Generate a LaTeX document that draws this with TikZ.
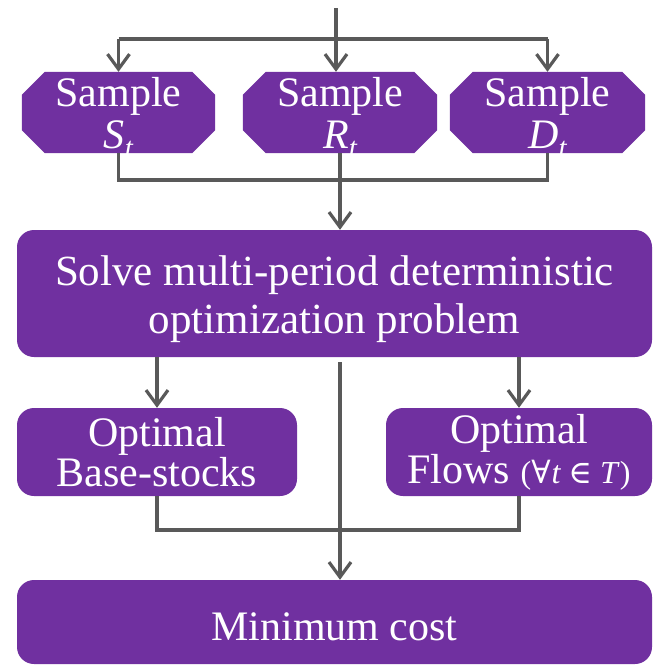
\documentclass[tikz,border=0pt]{standalone}
\usepackage{fontspec}
\setmainfont{Liberation Serif}
\newfontfamily\symfnt{DejaVu Serif}
\usetikzlibrary{arrows.meta}
\definecolor{purp}{HTML}{7030A0}
\definecolor{lgray}{HTML}{595959}
\pgfdeclarelayer{bg}
\pgfsetlayers{bg,main}
\newcommand\vsub[2]{\textit{#1}\raisebox{-0.22em}{\fontsize{29}{29}\selectfont\itshape #2}}
\newcommand\octfill[1]{%
  \begin{pgfonlayer}{bg}
  \fill[purp] ([xshift=23pt]#1.north west) -- ([xshift=-23pt]#1.north east)
    -- ([yshift=-23pt]#1.north east) -- ([yshift=23pt]#1.south east)
    -- ([xshift=-23pt]#1.south east) -- ([xshift=23pt]#1.south west)
    -- ([yshift=23pt]#1.south west) -- ([yshift=-23pt]#1.north west) -- cycle;
  \end{pgfonlayer}}
\begin{document}
\begin{tikzpicture}[x=1pt,y=-1pt,
  txt/.style={text=white,align=center,inner sep=0pt,font=\fontsize{42}{42}\selectfont},
  frame/.style={inner sep=0pt},
  rbox/.style={frame,fill=purp,rounded corners=17pt},
  conn/.style={draw=lgray,line width=3.2pt},
  arr/.style={conn,-{Straight Barb[length=15pt,width=22pt,line width=3.2pt]}}]
\useasboundingbox (0,0) rectangle (655,665);

% sample boxes
\node[frame,minimum width=193pt,minimum height=81pt] (sS) at (118.5,112.5) {};
\node[frame,minimum width=194pt,minimum height=81pt] (sR) at (340,112.5) {};
\node[frame,minimum width=195pt,minimum height=81pt] (sD) at (547.5,112.5) {};
\octfill{sS}\octfill{sR}\octfill{sD}
\node[txt] (sSt) at ([yshift=-5pt]sS.center) {Sample\\\vsub{S}{t}};
\node[txt] (sRt) at ([yshift=-5pt]sR.center) {Sample\\\vsub{R}{t}};
\node[txt] (sDt) at ([yshift=-5pt]sD.center) {Sample\\\vsub{D}{t}};

% solve box
\node[rbox,minimum width=635pt,minimum height=127pt] (solve) at (334.5,293.5) {};
\node[txt,font=\fontsize{43}{48}\selectfont] (solvet) at ([yshift=-6pt]solve.center)
  {Solve multi-period deterministic\\optimization problem};

% optimal boxes
\node[rbox,minimum width=280pt,minimum height=88pt] (obs) at (157,452) {};
\node[txt,font=\fontsize{42}{40}\selectfont] (obst) at (obs.center) {Optimal\\Base-stocks};
\node[rbox,minimum width=266pt,minimum height=88pt] (ofl) at (519,452) {};
\node[txt,font=\fontsize{42}{40}\selectfont] (oflt) at (ofl.center)
  {Optimal\\Flows {\fontsize{32}{32}\selectfont(\symfnt ∀\kern1pt\rmfamily\itshape t {\symfnt ∈} T\kern2pt\upshape)}};

% minimum cost
\node[rbox,minimum width=635pt,minimum height=84pt] (minc) at (334.5,622) {};
\node[txt] (minct) at ([yshift=-5pt]minc.center) {Minimum cost};

% coordinates for connectors
\coordinate (top) at (336,8);
\coordinate (tb) at (336,39);
\coordinate (jb) at (340,180);
\coordinate (m0) at (340,362);
\coordinate (jb2) at (340,530);

% top distribution
\draw[conn] (top) -- (tb);
\draw[conn] (sS.north |- tb) -- (sD.north |- tb);
\draw[arr] (sS.north |- tb) -- (sS.north);
\draw[arr] (top) -- (top |- sR.north);
\draw[arr] (sD.north |- tb) -- (sD.north);

% join from samples
\draw[conn] (sS.south) -- (sS.south |- jb) -- (sD.south |- jb) -- (sD.south);
\draw[conn] (sR.south) -- (sR.south |- jb);
\draw[arr] (jb) -- (jb |- solve.north);

% from solve
\draw[arr] (obs.north |- solve.south) -- (obs.north);
\draw[arr] (ofl.north |- solve.south) -- (ofl.north);
\draw[arr] (m0) -- (m0 |- minc.north);

% join from optimal boxes
\draw[conn] (obs.south) -- (obs.south |- jb2) -- (ofl.south |- jb2) -- (ofl.south);
\end{tikzpicture}
\end{document}
